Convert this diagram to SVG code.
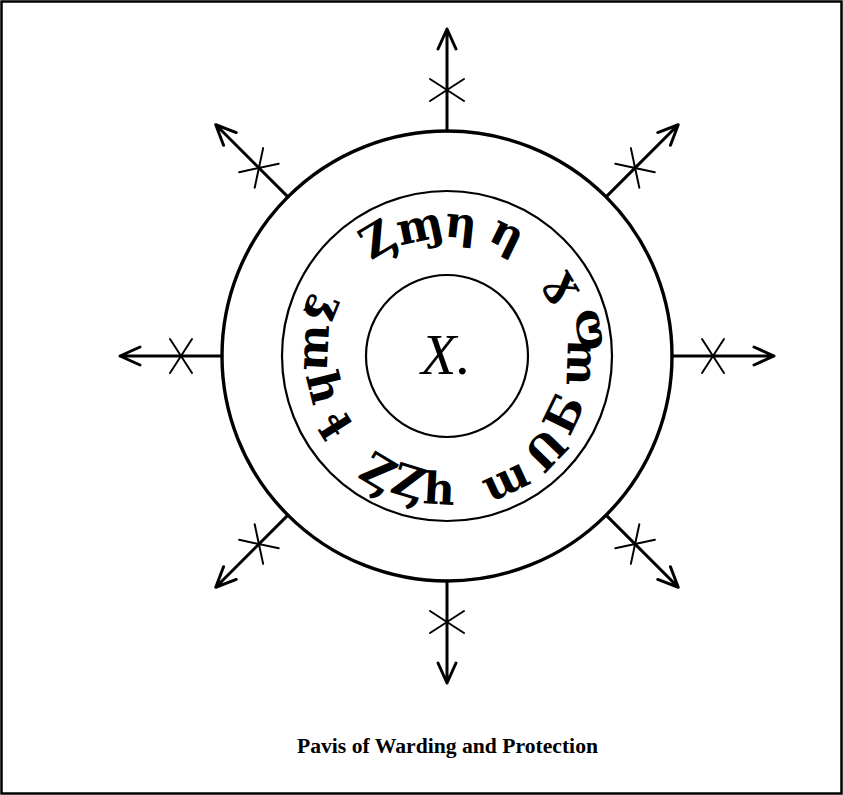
<svg xmlns="http://www.w3.org/2000/svg" xmlns:xlink="http://www.w3.org/1999/xlink" width="843" height="795" viewBox="0 0 843 795">
<style>
.ln{fill:none;stroke:#000;stroke-linecap:round;stroke-linejoin:round}
.g{font-family:"DejaVu Serif","Liberation Serif",serif;font-size:44px;font-weight:bold;text-anchor:middle;fill:#000}
</style>
<defs>
<g id="arrow">
<path class="ln" d="M225,0 H327 M307,-9 L327,0 L307,9" stroke-width="3"/>
<path class="ln" d="M255,-17 L277,17 M255,17 L277,-17" stroke-width="2"/>
</g>
</defs>
<rect x="0" y="0" width="843" height="795" fill="#fff"/>
<rect x="1.5" y="1.5" width="840" height="792" fill="none" stroke="#000" stroke-width="2.5"/>
<g id="connectors">
<use xlink:href="#arrow" transform="translate(447,356) rotate(0)"/>
<use xlink:href="#arrow" transform="translate(447,356) rotate(45)"/>
<use xlink:href="#arrow" transform="translate(447,356) rotate(90)"/>
<use xlink:href="#arrow" transform="translate(447,356) rotate(135)"/>
<use xlink:href="#arrow" transform="translate(447,356) rotate(180)"/>
<use xlink:href="#arrow" transform="translate(447,356) rotate(225)"/>
<use xlink:href="#arrow" transform="translate(447,356) rotate(270)"/>
<use xlink:href="#arrow" transform="translate(447,356) rotate(315)"/>
</g>
<g id="outer-circle"><circle cx="447" cy="356" r="225" class="ln" stroke-width="3.4"/></g>
<g id="middle-circle"><circle cx="447" cy="356" r="165" class="ln" stroke-width="2.2"/></g>
<g id="inner-circle"><circle cx="447" cy="356" r="81" class="ln" stroke-width="2.2"/>
<text x="421" y="374" font-family="Liberation Serif, serif" font-style="italic" font-size="58">X.</text></g>
<g id="ring-glyphs">
<text class="g" transform="translate(378,241) rotate(-31)" y="13">Ȥ</text>
<text class="g" transform="translate(420,228) rotate(-12)" y="13">ɱ</text>
<text class="g" transform="translate(461,225) rotate(6)" y="13">η</text>
<text class="g" transform="translate(507,235) rotate(26)" y="13">η</text>
<text class="g" transform="translate(565,285) rotate(59)" y="13">ɣ</text>
<text class="g" transform="translate(587,330) rotate(-100)" y="13">ɷ</text>
<text class="g" transform="translate(577,362) rotate(-88)" y="13">ɯ</text>
<text class="g" transform="translate(566,415) rotate(-64)" y="13">Ƃ</text>
<text class="g" transform="translate(548,452) rotate(-46)" y="13">Ո</text>
<text class="g" transform="translate(506,481) rotate(-25)" y="13">ɯ</text>
<text class="g" transform="translate(439,491) rotate(3)" y="13">h</text>
<text class="g" transform="translate(408,484) rotate(17)" y="13">Ȥ</text>
<text class="g" transform="translate(377,474) rotate(31)" y="13">Ȥ</text>
<text class="g" transform="translate(331,427) rotate(58)" y="13">ɬ</text>
<text class="g" transform="translate(322,388) rotate(76)" y="13">h</text>
<text class="g" transform="translate(318,348) rotate(93)" y="13">ɯ</text>
<text class="g" transform="translate(327,308) rotate(112)" y="13">ʓ</text>
</g>
<g id="caption">
<text x="297" y="753" font-family="Liberation Serif, serif" font-weight="bold" font-size="20" textLength="301" lengthAdjust="spacingAndGlyphs">Pavis of Warding and Protection</text>
</g>
</svg>
